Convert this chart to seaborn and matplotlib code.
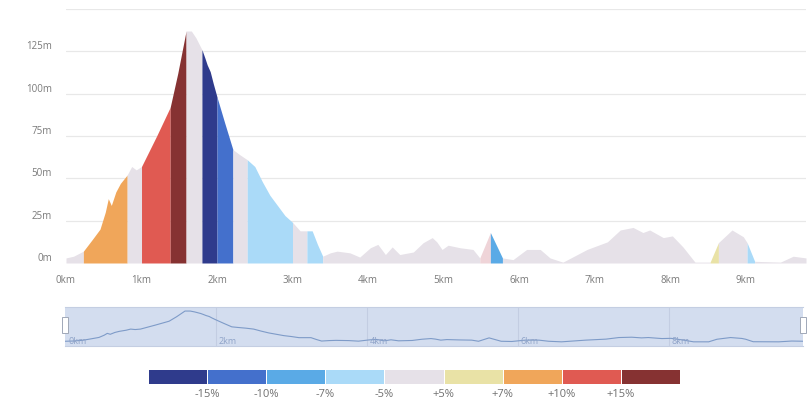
import numpy as np
import matplotlib
matplotlib.use("Agg")
import matplotlib.pyplot as plt
import seaborn as sns
from matplotlib.colors import ListedColormap
from matplotlib.patches import Rectangle

# elevation profile (distance in km, elevation in m)
distance_km = [0.00, 0.10, 0.23, 0.35, 0.45, 0.52, 0.56, 0.60, 0.66, 0.72, 0.81, 0.87, 0.93,
               1.00, 1.20, 1.38, 1.48, 1.59, 1.66, 1.72, 1.80, 1.84, 1.87, 1.91, 1.95,
               2.00, 2.10, 2.21, 2.30, 2.40, 2.50, 2.60, 2.70, 2.80, 2.90, 3.00, 3.10,
               3.19, 3.26, 3.33, 3.40, 3.50, 3.59, 3.76, 3.89, 4.03, 4.13, 4.23, 4.32,
               4.42, 4.60, 4.73, 4.85, 4.91, 4.98, 5.06, 5.22, 5.39, 5.48, 5.62, 5.78,
               5.92, 6.10, 6.28, 6.41, 6.58, 6.90, 7.17, 7.34, 7.51, 7.64, 7.73, 7.91,
               8.03, 8.17, 8.33, 8.53, 8.64, 8.82, 8.97, 9.02, 9.12, 9.46, 9.63, 9.80]
elevation_m = [3, 4, 7, 14, 20, 30, 38, 34, 42, 47, 52, 57, 55,
               57, 75, 92, 112, 137, 137, 133, 126, 121, 117, 113, 106,
               98, 83, 67, 64, 61, 57, 48, 40, 34, 28, 24, 19,
               19, 19, 11, 4, 6, 7, 6, 3.5, 9, 11, 5, 9.5,
               5, 6.5, 12, 15, 12.5, 8, 10.5, 9, 8, 3, 18, 3,
               2, 8, 8, 3, 0.5, 8, 12.5, 19.5, 21, 18, 19.5, 15,
               16, 9.5, 0.5, 0.5, 12, 19.5, 15.5, 12, 1, 0.5, 4, 3]

# grade classes along the route (segment start km -> class index, 9 = faint climb)
segment_start = [0.00, 0.23, 0.81, 1.00, 1.38, 1.59, 1.80, 2.00, 2.21, 2.40, 3.00, 3.19,
                 3.40, 5.48, 5.62, 5.78, 8.53, 8.64, 9.02, 9.12]
segment_end = segment_start[1:] + [9.80]
segment_class = [4, 6, 4, 7, 8, 4, 0, 1, 4, 3, 4, 3, 4, 9, 2, 4, 5, 4, 3, 4]

grade_labels = ["-15%", "-10%", "-7%", "-5%", "+5%", "+7%", "+10%", "+15%"]
grade_colors = ["#2f3b8c", "#4470cc", "#5aaae6", "#aadaf8", "#e6e1e8",
                "#e9e2a6", "#f0a65a", "#e05a52", "#863232"]
faint_color = "#efd4d8"

y_ticks = [0, 25, 50, 75, 100, 125, 150]
y_tick_labels = ["0m", "25m", "50m", "75m", "100m", "125m", ""]
x_ticks = list(range(10))
x_tick_labels = [f"{k}km" for k in x_ticks]
nav_ticks = [0, 2, 4, 6, 8]

sns.set_style("white")
plt.rcParams["font.family"] = ["Open Sans", "DejaVu Sans"]

dist = np.array(distance_km)
elev = np.array(elevation_m)
fill_colors = grade_colors + [faint_color]

fig = plt.figure(figsize=(8.11, 4.02), dpi=100)

# main elevation chart
ax = fig.add_axes([66 / 811, 138 / 402, 740 / 811, 254 / 402])
for a, b, c in zip(segment_start, segment_end, segment_class):
    mask = (dist >= a) & (dist <= b)
    ax.fill_between(dist[mask], 0, elev[mask], color=fill_colors[c], linewidth=0)
ax.set_xlim(0, 9.80)
ax.set_ylim(0, 150)
ax.set_yticks(y_ticks)
ax.set_yticklabels(y_tick_labels)
ax.set_xticks(x_ticks)
ax.set_xticklabels(x_tick_labels)
for lab in ax.get_yticklabels():
    lab.set_va("bottom")
ax.grid(axis="y", color="#e8e8e8", linewidth=0.9)
ax.set_axisbelow(True)
ax.tick_params(axis="y", length=0, pad=10, labelsize=7, colors="#7a7a7a")
ax.tick_params(axis="x", length=0, pad=8, labelsize=7, colors="#7a7a7a")
sns.despine(ax=ax, left=True, bottom=True)

# navigator strip
nav = fig.add_axes([65 / 811, 55 / 402, 738 / 811, 39 / 402])
nav.set_facecolor("#d3ddef")
sns.lineplot(x=distance_km, y=elevation_m, ax=nav, color="#7e9bc8", linewidth=0.8)
nav.set_xlim(0, 9.78)
nav.set_ylim(-18, 155)
nav.set_xticks([])
nav.set_yticks([])
nav.set_xlabel("")
nav.set_ylabel("")
for k in nav_ticks:
    if k > 0:
        nav.axvline(k, color="#c3cde2", linewidth=0.8, zorder=0)
    nav.text(k + 0.04, -14, f"{k}km", fontsize=6.5, color="#8fa3c8", va="bottom", ha="left")
for side in ["left", "right"]:
    nav.spines[side].set_visible(False)
for side in ["top", "bottom"]:
    nav.spines[side].set_color("#c4cee2")
    nav.spines[side].set_linewidth(0.8)
for hx in [62, 800]:
    fig.patches.append(Rectangle((hx / 811, 68 / 402), 6 / 811, 16 / 402,
                                 transform=fig.transFigure, facecolor="white",
                                 edgecolor="#a0a8b8", linewidth=0.7))

# grade legend bar
leg = fig.add_axes([148 / 811, 17 / 402, 532 / 811, 15 / 402])
sns.heatmap(np.arange(9).reshape(1, 9), ax=leg, cmap=ListedColormap(grade_colors),
            cbar=False, linewidths=0.6, linecolor="white")
leg.set_yticks([])
leg.set_xticks(range(1, 9))
leg.set_xticklabels(grade_labels, rotation=0)
leg.tick_params(axis="x", length=0, pad=3, labelsize=8, colors="#707070")

fig.savefig("out.png", dpi=100)
